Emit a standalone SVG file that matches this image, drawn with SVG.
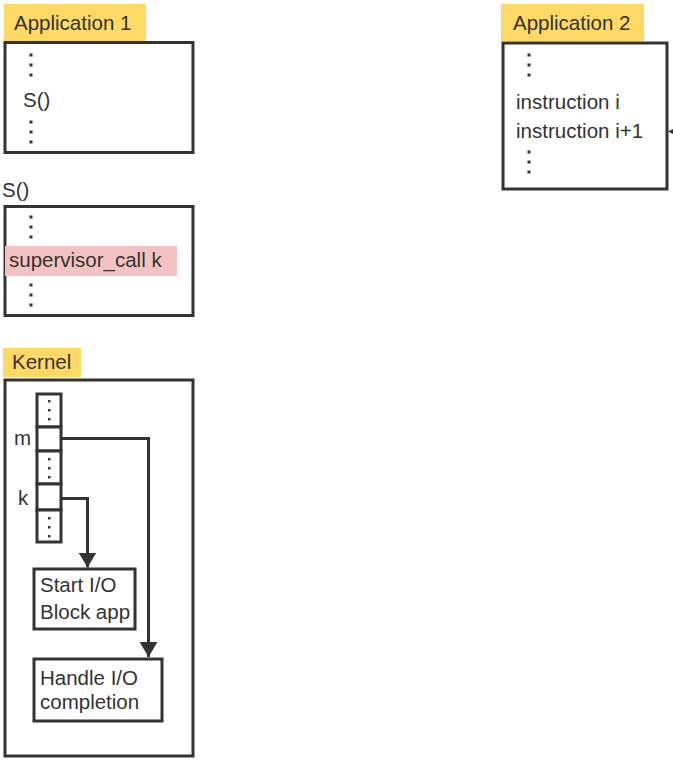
<svg xmlns="http://www.w3.org/2000/svg" width="673" height="766" viewBox="0 0 673 766">
<defs>
<style>
text{font-family:"Liberation Sans",Arial,sans-serif;font-size:20.5px;fill:#333333}
.box{fill:#ffffff;stroke:#333333;stroke-width:3}
.lab{fill:#ffd966}
.dot{fill:#333333}
.kdot{fill:#4a2a55}
.conn{fill:none;stroke:#333333;stroke-width:3}
</style>
<marker id="ah" viewBox="0 0 15 18" refX="15" refY="9" markerWidth="15" markerHeight="18" markerUnits="userSpaceOnUse" orient="auto">
<path d="M0,0 L15,9 L0,18 Z" fill="#333333"/>
</marker>
<g id="vdots"><rect x="-1.5" y="-1.5" width="3" height="3"/><rect x="-1.5" y="8.5" width="3" height="3"/><rect x="-1.5" y="18.5" width="3" height="3"/></g>
<g id="kdots"><rect x="-1" y="-1" width="2.5" height="2.5"/><rect x="-1" y="8" width="2.5" height="2.5"/><rect x="-1" y="17" width="2.5" height="2.5"/></g>
</defs>
<rect width="673" height="766" fill="#ffffff"/>

<g id="app1">
<rect class="lab" x="4" y="4" width="142" height="37"/>
<text x="14" y="30">Application 1</text>
<rect class="box" x="5" y="42.5" width="188" height="110"/>
<use href="#vdots" x="31" y="55" class="dot"/>
<text x="23" y="107">S()</text>
<use href="#vdots" x="31" y="122" class="dot"/>
</g>

<g id="app2">
<rect class="lab" x="501" y="4" width="143" height="37"/>
<text x="513" y="30">Application 2</text>
<rect class="box" x="503" y="43" width="164" height="146"/>
<use href="#vdots" x="529" y="55" class="dot"/>
<text x="516" y="109">instruction i</text>
<text x="516" y="138">instruction i+1</text>
<use href="#vdots" x="529" y="152" class="dot"/>
</g>

<g id="s_routine">
<text x="2" y="197">S()</text>
<rect class="box" x="5" y="206.5" width="188" height="109"/>
<use href="#vdots" x="31" y="217" class="dot"/>
<rect x="5" y="246" width="172" height="30" fill="#f4c2c2"/>
<text x="9" y="267">supervisor_call k</text>
<use href="#vdots" x="31" y="285" class="dot"/>
</g>

<g id="kernel">
<rect class="lab" x="3" y="348" width="78" height="29"/>
<text x="12" y="369">Kernel</text>
<rect class="box" x="5" y="380" width="188" height="376"/>
</g>

<g id="table">
<rect class="box" x="37" y="394" width="24" height="33"/>
<use href="#kdots" x="49" y="401" class="kdot"/>
<rect class="box" x="37" y="427" width="24" height="24"/>
<rect class="box" x="37" y="451" width="24" height="33"/>
<use href="#kdots" x="49" y="459" class="kdot"/>
<rect class="box" x="37" y="484" width="24" height="26"/>
<rect class="box" x="37" y="510" width="24" height="32"/>
<use href="#kdots" x="49" y="518" class="kdot"/>
<text x="14" y="445">m</text>
<text x="18" y="505">k</text>
</g>

<g id="start_io">
<rect class="box" x="34" y="569" width="101" height="60"/>
<text x="40" y="592">Start I/O</text>
<text x="40" y="619">Block app</text>
</g>

<g id="handle_io">
<rect class="box" x="34" y="659" width="128" height="62"/>
<text x="40" y="685">Handle I/O</text>
<text x="40" y="709">completion</text>
</g>

<g id="connectors">
<polyline class="conn" points="61,438.5 148.5,438.5 148.5,657" marker-end="url(#ah)"/>
<polyline class="conn" points="61,498.5 87.5,498.5 87.5,567.5" marker-end="url(#ah)"/>
<path d="M668,131.5 L673,129 L673,134 Z" fill="#333333"/>
</g>
</svg>
